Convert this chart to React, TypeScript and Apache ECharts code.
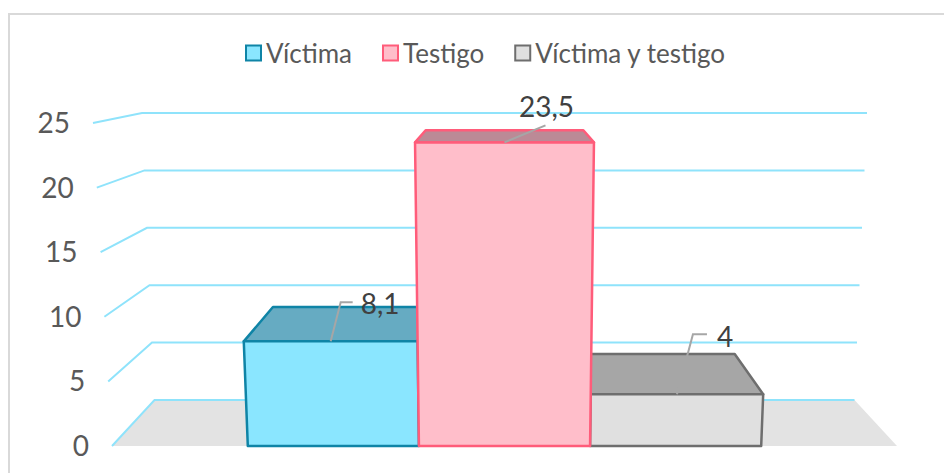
import React, { useEffect, useRef } from "react";
import * as echarts from "echarts";

const categories = ["Víctima", "Testigo", "Víctima y testigo"];
const values = [8.1, 23.5, 4];
const valueLabels = ["8,1", "23,5", "4"];
const ticks = [0, 5, 10, 15, 20, 25];
const tickLabels = ["0", "5", "10", "15", "20", "25"];

const faceColors = ["#8AE6FF", "#FFBECA", "#E0E0E0"];
const topColors = ["#66ABC2", "#BB8A96", "#A6A6A6"];
const edgeColors = ["#0F84A6", "#FF5C7A", "#6E6E6E"];

const FONT = "Lato, 'Open Sans', sans-serif";
const LEFT = 112, WIDTH = 785, TOP = 123, HEIGHT = 323;
const CX = LEFT + WIDTH / 2;
const BAR_START = 0.173, BAR_SPAN = 0.218;
const BACK_FLOOR = 400, BACK_RATIO = 287 / 323;

// Projects a point of the chart's scales on the front or back plane of the box.
function project(api: any, f: number, v: number, back: boolean): number[] {
  const p = api.coord([f, v]);
  if (!back) {
    const s = 1 + (v * 0.76) / (WIDTH / 2);
    return [CX + (p[0] - CX) * s, p[1]];
  }
  const s = (350 + 0.5 * v) / (WIDTH / 2);
  const floor = api.coord([f, 0])[1];
  return [CX + (p[0] - CX) * s, BACK_FLOOR - (floor - p[1]) * BACK_RATIO];
}

const wallItem = (params: any, api: any) => {
  const v = api.value(0);
  const a = project(api, 0, v, false);
  const b = project(api, 0, v, true);
  const c = project(api, 1, v, true);
  const children: any[] = [];
  if (v === 0) {
    const d = project(api, 1, v, false);
    children.push({ type: "polygon", shape: { points: [a, b, c, d] }, style: { fill: "#E3E3E3" } });
  }
  children.push({
    type: "polyline",
    shape: { points: [a, b, c] },
    style: { stroke: "#8FE3FB", lineWidth: 2, fill: "none" },
  });
  children.push({
    type: "text",
    style: {
      x: a[0] - 23,
      y: a[1] - 1,
      text: tickLabels[params.dataIndex],
      font: `28px ${FONT}`,
      fill: "#595959",
      align: "right",
      verticalAlign: "middle",
    },
  });
  return { type: "group", children };
};

const barItem = (i: number) => (_: any, api: any) => {
  const v = api.value(1);
  const f0 = BAR_START + i * BAR_SPAN;
  const f1 = f0 + BAR_SPAN;
  const fl = project(api, f0, v, false);
  const fr = project(api, f1, v, false);
  const bl = project(api, f0, v, true);
  const br = project(api, f1, v, true);
  const b0 = project(api, f0, 0, false);
  const b1 = project(api, f1, 0, false);
  const common = { stroke: edgeColors[i], lineWidth: 2.5, lineJoin: "round" };
  return {
    type: "group",
    children: [
      { type: "polygon", shape: { points: [fl, bl, br, fr] }, style: { fill: topColors[i], ...common } },
      { type: "polygon", shape: { points: [fl, fr, b1, b0] }, style: { fill: faceColors[i], ...common } },
    ],
  };
};

// Leader offsets from the bar's top-front midpoint: elbow, end, label anchor.
const leaders = [
  { elbow: [10, -39], end: [22, -39], label: [30, -38], align: "left" },
  { elbow: [41, -17], end: [41, -17], label: [42, -36], align: "center" },
  { elbow: [16, -60], end: [30, -60], label: [40, -58], align: "left" },
];

const labelItem = (_: any, api: any) => {
  const i = api.value(0);
  const v = api.value(1);
  const f = BAR_START + (i + 0.5) * BAR_SPAN;
  const a = project(api, f, v, false);
  const l = leaders[i];
  const x = a[0];
  const y = a[1];
  return {
    type: "group",
    children: [
      {
        type: "polyline",
        shape: { points: [[x, y], [x + l.elbow[0], y + l.elbow[1]], [x + l.end[0], y + l.end[1]]] },
        style: { stroke: "#A6A6A6", lineWidth: 2, fill: "none" },
      },
      {
        type: "text",
        style: {
          x: x + l.label[0],
          y: y + l.label[1],
          text: valueLabels[i],
          font: `28px ${FONT}`,
          fill: "#404040",
          align: l.align,
          verticalAlign: "middle",
        },
      },
    ],
  };
};

export default function App() {
  const ref = useRef<HTMLDivElement>(null);
  useEffect(() => {
    document.body.style.margin = "0";
    const chart = echarts.init(ref.current!, undefined, { renderer: "svg" });
    chart.setOption({
      animation: false,
      backgroundColor: "#FFFFFF",
      grid: { left: LEFT, width: WIDTH, top: TOP, height: HEIGHT },
      xAxis: { type: "value", min: 0, max: 1, show: false },
      yAxis: { type: "value", min: 0, max: 25, interval: 5, show: false },
      legend: {
        data: categories,
        top: 35,
        left: 240,
        icon: "rect",
        itemWidth: 15,
        itemHeight: 15,
        itemGap: 30,
        selectedMode: false,
        textStyle: { fontFamily: FONT, fontSize: 26, color: "#595959" },
      },
      graphic: [
        {
          type: "rect",
          silent: true,
          z: -1,
          shape: { x: 9, y: 14, width: 1000, height: 500 },
          style: { fill: "none", stroke: "#D9D9D9", lineWidth: 2 },
        },
      ],
      series: [
        {
          type: "custom",
          name: "walls",
          renderItem: wallItem,
          data: ticks.map((t) => [t]),
          encode: { y: 0 },
          silent: true,
          z: 1,
        },
        ...[2, 0, 1].map((i) => ({
          type: "custom",
          name: categories[i],
          renderItem: barItem(i),
          data: [[i, values[i]]],
          itemStyle: { color: faceColors[i], borderColor: edgeColors[i], borderWidth: 2 },
          encode: { x: 0, y: 1 },
          silent: true,
          z: 2 + [2, 0, 1].indexOf(i),
        })),
        {
          type: "custom",
          name: "labels",
          renderItem: labelItem,
          data: values.map((v, i) => [i, v]),
          encode: { x: 0, y: 1 },
          silent: true,
          z: 6,
        },
      ],
    });
    return () => chart.dispose();
  }, []);
  return <div ref={ref} style={{ position: "fixed", left: 0, top: 0, width: 944, height: 473 }} />;
}
